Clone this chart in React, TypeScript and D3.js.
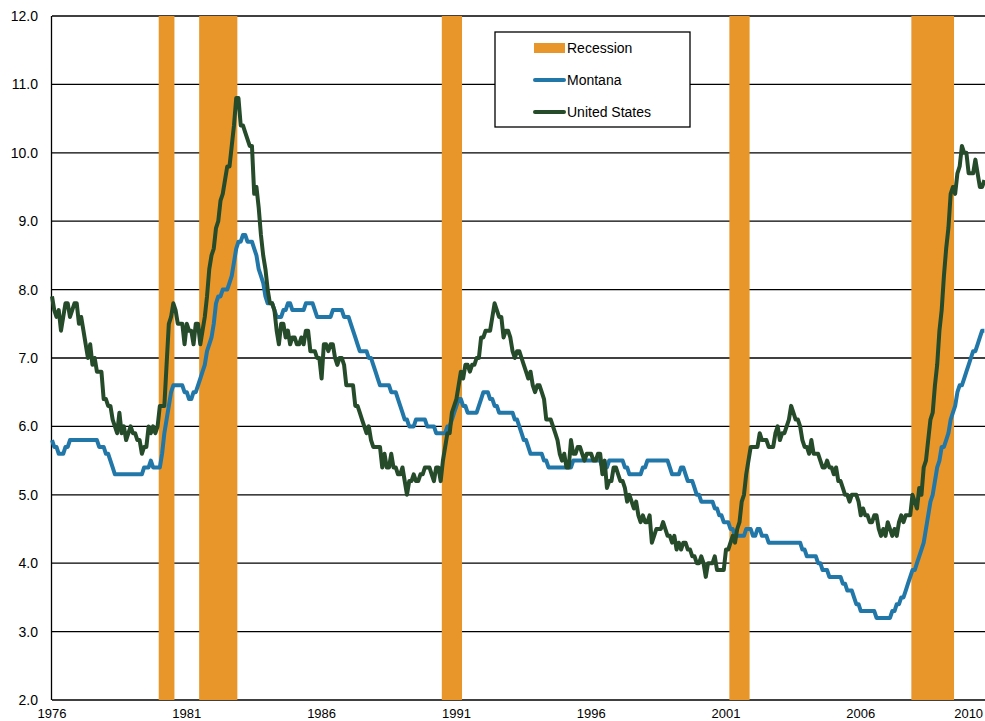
import React, { useEffect, useRef } from 'react';
import * as d3 from 'd3';

// monthly unemployment rate (%), Jan 1976 - Aug 2010
const START_YEAR = 1976;

const montana = [
  5.8, 5.7, 5.7, 5.6, 5.6, 5.6, 5.7, 5.7, 5.8, 5.8, 5.8, 5.8, // 1976
  5.8, 5.8, 5.8, 5.8, 5.8, 5.8, 5.8, 5.8, 5.8, 5.7, 5.7, 5.7, // 1977
  5.6, 5.6, 5.5, 5.4, 5.3, 5.3, 5.3, 5.3, 5.3, 5.3, 5.3, 5.3, // 1978
  5.3, 5.3, 5.3, 5.3, 5.3, 5.4, 5.4, 5.4, 5.5, 5.4, 5.4, 5.4, // 1979
  5.4, 5.6, 5.9, 6.1, 6.3, 6.5, 6.6, 6.6, 6.6, 6.6, 6.6, 6.5, // 1980
  6.5, 6.4, 6.4, 6.5, 6.5, 6.6, 6.7, 6.8, 6.9, 7.1, 7.2, 7.3, // 1981
  7.5, 7.8, 7.9, 7.9, 8.0, 8.0, 8.0, 8.1, 8.2, 8.4, 8.6, 8.7, // 1982
  8.7, 8.8, 8.8, 8.7, 8.7, 8.7, 8.6, 8.5, 8.3, 8.2, 8.1, 7.9, // 1983
  7.8, 7.8, 7.8, 7.7, 7.6, 7.6, 7.6, 7.7, 7.7, 7.8, 7.8, 7.7, // 1984
  7.7, 7.7, 7.7, 7.7, 7.7, 7.8, 7.8, 7.8, 7.8, 7.7, 7.6, 7.6, // 1985
  7.6, 7.6, 7.6, 7.6, 7.6, 7.7, 7.7, 7.7, 7.7, 7.7, 7.6, 7.6, // 1986
  7.6, 7.5, 7.4, 7.3, 7.2, 7.1, 7.1, 7.1, 7.1, 7.0, 7.0, 6.9, // 1987
  6.8, 6.7, 6.6, 6.6, 6.6, 6.6, 6.6, 6.5, 6.5, 6.5, 6.4, 6.3, // 1988
  6.2, 6.1, 6.1, 6.0, 6.0, 6.0, 6.1, 6.1, 6.1, 6.1, 6.1, 6.0, // 1989
  6.0, 6.0, 6.0, 5.9, 5.9, 5.9, 5.9, 5.9, 6.0, 6.0, 6.1, 6.2, // 1990
  6.3, 6.4, 6.4, 6.3, 6.3, 6.2, 6.2, 6.2, 6.2, 6.2, 6.3, 6.4, // 1991
  6.5, 6.5, 6.5, 6.4, 6.4, 6.3, 6.3, 6.2, 6.2, 6.2, 6.2, 6.2, // 1992
  6.2, 6.2, 6.1, 6.1, 6.0, 5.9, 5.8, 5.8, 5.7, 5.6, 5.6, 5.6, // 1993
  5.6, 5.6, 5.6, 5.5, 5.5, 5.4, 5.4, 5.4, 5.4, 5.4, 5.4, 5.4, // 1994
  5.4, 5.4, 5.4, 5.4, 5.5, 5.5, 5.5, 5.5, 5.5, 5.5, 5.5, 5.5, // 1995
  5.5, 5.5, 5.5, 5.5, 5.5, 5.4, 5.4, 5.4, 5.5, 5.5, 5.5, 5.5, // 1996
  5.5, 5.5, 5.5, 5.4, 5.4, 5.3, 5.3, 5.3, 5.3, 5.3, 5.3, 5.4, // 1997
  5.4, 5.5, 5.5, 5.5, 5.5, 5.5, 5.5, 5.5, 5.5, 5.5, 5.5, 5.4, // 1998
  5.3, 5.3, 5.3, 5.3, 5.4, 5.4, 5.3, 5.2, 5.2, 5.2, 5.1, 5.0, // 1999
  5.0, 4.9, 4.9, 4.9, 4.9, 4.9, 4.9, 4.8, 4.8, 4.7, 4.7, 4.6, // 2000
  4.6, 4.6, 4.5, 4.5, 4.4, 4.4, 4.4, 4.4, 4.4, 4.5, 4.5, 4.5, // 2001
  4.4, 4.4, 4.5, 4.5, 4.4, 4.4, 4.4, 4.3, 4.3, 4.3, 4.3, 4.3, // 2002
  4.3, 4.3, 4.3, 4.3, 4.3, 4.3, 4.3, 4.3, 4.3, 4.3, 4.2, 4.2, // 2003
  4.1, 4.1, 4.1, 4.1, 4.1, 4.0, 4.0, 3.9, 3.9, 3.9, 3.8, 3.8, // 2004
  3.8, 3.8, 3.8, 3.8, 3.7, 3.7, 3.6, 3.6, 3.6, 3.5, 3.4, 3.4, // 2005
  3.3, 3.3, 3.3, 3.3, 3.3, 3.3, 3.3, 3.2, 3.2, 3.2, 3.2, 3.2, // 2006
  3.2, 3.2, 3.3, 3.3, 3.4, 3.4, 3.5, 3.5, 3.6, 3.7, 3.8, 3.9, // 2007
  3.9, 4.0, 4.1, 4.2, 4.3, 4.5, 4.7, 4.9, 5.0, 5.2, 5.4, 5.5, // 2008
  5.7, 5.7, 5.8, 5.9, 6.1, 6.2, 6.3, 6.5, 6.6, 6.6, 6.7, 6.8, // 2009
  6.9, 7.0, 7.1, 7.1, 7.2, 7.3, 7.4, 7.4 // 2010
];

const unitedStates = [
  7.9, 7.7, 7.6, 7.7, 7.4, 7.6, 7.8, 7.8, 7.6, 7.7, 7.8, 7.8, // 1976
  7.5, 7.6, 7.4, 7.2, 7.0, 7.2, 6.9, 7.0, 6.8, 6.8, 6.8, 6.4, // 1977
  6.4, 6.3, 6.3, 6.1, 6.0, 5.9, 6.2, 5.9, 6.0, 5.8, 5.9, 6.0, // 1978
  5.9, 5.9, 5.8, 5.8, 5.6, 5.7, 5.7, 6.0, 5.9, 6.0, 5.9, 6.0, // 1979
  6.3, 6.3, 6.3, 6.9, 7.5, 7.6, 7.8, 7.7, 7.5, 7.5, 7.5, 7.2, // 1980
  7.5, 7.4, 7.4, 7.2, 7.5, 7.5, 7.2, 7.4, 7.6, 7.9, 8.3, 8.5, // 1981
  8.6, 8.9, 9.0, 9.3, 9.4, 9.6, 9.8, 9.8, 10.1, 10.4, 10.8, 10.8, // 1982
  10.4, 10.4, 10.3, 10.2, 10.1, 10.1, 9.4, 9.5, 9.2, 8.8, 8.5, 8.3, // 1983
  8.0, 7.8, 7.8, 7.7, 7.4, 7.2, 7.5, 7.5, 7.3, 7.4, 7.2, 7.3, // 1984
  7.3, 7.2, 7.2, 7.3, 7.2, 7.4, 7.4, 7.1, 7.1, 7.1, 7.0, 7.0, // 1985
  6.7, 7.2, 7.2, 7.1, 7.2, 7.2, 7.0, 6.9, 7.0, 7.0, 6.9, 6.6, // 1986
  6.6, 6.6, 6.6, 6.3, 6.3, 6.2, 6.1, 6.0, 5.9, 6.0, 5.8, 5.7, // 1987
  5.7, 5.7, 5.7, 5.4, 5.6, 5.4, 5.4, 5.6, 5.4, 5.4, 5.3, 5.3, // 1988
  5.4, 5.2, 5.0, 5.2, 5.2, 5.3, 5.2, 5.2, 5.3, 5.3, 5.4, 5.4, // 1989
  5.4, 5.3, 5.2, 5.4, 5.4, 5.2, 5.5, 5.7, 5.9, 5.9, 6.2, 6.3, // 1990
  6.4, 6.6, 6.8, 6.7, 6.9, 6.9, 6.8, 6.9, 6.9, 7.0, 7.0, 7.3, // 1991
  7.3, 7.4, 7.4, 7.4, 7.6, 7.8, 7.7, 7.6, 7.6, 7.3, 7.4, 7.4, // 1992
  7.3, 7.1, 7.0, 7.1, 7.1, 7.0, 6.9, 6.8, 6.7, 6.8, 6.6, 6.5, // 1993
  6.6, 6.6, 6.5, 6.4, 6.1, 6.1, 6.1, 6.0, 5.9, 5.8, 5.6, 5.5, // 1994
  5.6, 5.4, 5.4, 5.8, 5.6, 5.6, 5.7, 5.7, 5.6, 5.5, 5.6, 5.6, // 1995
  5.6, 5.5, 5.5, 5.6, 5.6, 5.3, 5.5, 5.1, 5.2, 5.2, 5.4, 5.4, // 1996
  5.3, 5.2, 5.2, 5.1, 4.9, 5.0, 4.9, 4.8, 4.9, 4.7, 4.6, 4.7, // 1997
  4.6, 4.6, 4.7, 4.3, 4.4, 4.5, 4.5, 4.5, 4.6, 4.5, 4.4, 4.4, // 1998
  4.3, 4.4, 4.2, 4.3, 4.2, 4.3, 4.3, 4.2, 4.2, 4.1, 4.1, 4.0, // 1999
  4.0, 4.1, 4.0, 3.8, 4.0, 4.0, 4.0, 4.1, 3.9, 3.9, 3.9, 3.9, // 2000
  4.2, 4.2, 4.3, 4.4, 4.3, 4.5, 4.6, 4.9, 5.0, 5.3, 5.5, 5.7, // 2001
  5.7, 5.7, 5.7, 5.9, 5.8, 5.8, 5.8, 5.7, 5.7, 5.7, 5.9, 6.0, // 2002
  5.8, 5.9, 5.9, 6.0, 6.1, 6.3, 6.2, 6.1, 6.1, 6.0, 5.8, 5.7, // 2003
  5.7, 5.6, 5.8, 5.6, 5.6, 5.6, 5.5, 5.4, 5.4, 5.5, 5.4, 5.4, // 2004
  5.3, 5.4, 5.2, 5.2, 5.1, 5.0, 5.0, 4.9, 5.0, 5.0, 5.0, 4.9, // 2005
  4.7, 4.8, 4.7, 4.7, 4.6, 4.6, 4.7, 4.7, 4.5, 4.4, 4.5, 4.4, // 2006
  4.6, 4.5, 4.4, 4.5, 4.4, 4.6, 4.7, 4.6, 4.7, 4.7, 4.7, 5.0, // 2007
  4.9, 4.8, 5.1, 5.0, 5.4, 5.5, 5.8, 6.1, 6.2, 6.6, 6.9, 7.4, // 2008
  7.7, 8.2, 8.6, 8.9, 9.4, 9.5, 9.4, 9.7, 9.8, 10.1, 10.0, 10.0, // 2009
  9.7, 9.7, 9.7, 9.9, 9.7, 9.5, 9.5, 9.6 // 2010
];

// recession periods [first month, last month]
const recessionStart = ['1980-01', '1981-07', '1990-07', '2001-03', '2007-12'];
const recessionEnd = ['1980-07', '1982-11', '1991-03', '2001-11', '2009-06'];

const yTicks = [2, 3, 4, 5, 6, 7, 8, 9, 10, 11, 12];
const xTickYears = [1976, 1981, 1986, 1991, 1996, 2001, 2006, 2010];

const legendItems = ['Recession', 'Montana', 'United States'];

const WIDTH = 985;
const HEIGHT = 721;
const MARGIN = { top: 16, right: 0, bottom: 21, left: 52 };
const FONT = '"Liberation Sans", Arial, sans-serif';

const ORANGE = '#E8962A';
const BLUE = '#2277A9';
const GREEN = '#254B2A';

const monthIndex = (s: string) => {
  const [y, m] = s.split('-').map(Number);
  return (y - START_YEAR) * 12 + (m - 1);
};

const App: React.FC = () => {
  const svgRef = useRef<SVGSVGElement>(null);

  useEffect(() => {
    const svg = d3.select(svgRef.current);
    svg.selectAll('*').remove();

    const chartBottom = HEIGHT - MARGIN.bottom;

    // 5 years span 134.8px
    const pxPerMonth = 134.8 / 60;
    const xScale = d3.scaleLinear()
      .domain([0, 415])
      .range([MARGIN.left, MARGIN.left + 415 * pxPerMonth]);

    const yScale = d3.scaleLinear()
      .domain([2, 12])
      .range([chartBottom, MARGIN.top]);

    svg.append('rect')
      .attr('width', WIDTH)
      .attr('height', HEIGHT)
      .attr('fill', '#fff');

    // Gridlines
    svg.append('g')
      .selectAll('line')
      .data(yTicks)
      .enter().append('line')
      .attr('x1', MARGIN.left)
      .attr('x2', WIDTH)
      .attr('y1', d => yScale(d))
      .attr('y2', d => yScale(d))
      .attr('stroke', '#000')
      .attr('stroke-width', 1.3);

    // Recession bars
    svg.append('g')
      .selectAll('rect')
      .data(recessionStart.map((s, i) => [monthIndex(s), monthIndex(recessionEnd[i])]))
      .enter().append('rect')
      .attr('x', d => xScale(d[0] - 0.5))
      .attr('width', d => xScale(d[1] + 0.5) - xScale(d[0] - 0.5))
      .attr('y', MARGIN.top)
      .attr('height', chartBottom - MARGIN.top)
      .attr('fill', ORANGE);

    // Left axis line
    svg.append('line')
      .attr('x1', MARGIN.left - 0.5)
      .attr('x2', MARGIN.left - 0.5)
      .attr('y1', MARGIN.top)
      .attr('y2', chartBottom)
      .attr('stroke', '#000')
      .attr('stroke-width', 1.3);

    // Lines
    const line = d3.line<number>()
      .x((_, i) => xScale(i))
      .y(d => yScale(d));

    svg.append('path')
      .datum(montana)
      .attr('fill', 'none')
      .attr('stroke', BLUE)
      .attr('stroke-width', 4)
      .attr('stroke-linejoin', 'round')
      .attr('d', line);

    svg.append('path')
      .datum(unitedStates)
      .attr('fill', 'none')
      .attr('stroke', GREEN)
      .attr('stroke-width', 4)
      .attr('stroke-linejoin', 'round')
      .attr('d', line);

    // Y labels
    svg.append('g')
      .selectAll('text')
      .data(yTicks)
      .enter().append('text')
      .attr('x', 38)
      .attr('y', d => yScale(d))
      .attr('dy', '0.35em')
      .attr('text-anchor', 'end')
      .style('font-family', FONT)
      .style('font-size', '14px')
      .style('fill', '#000')
      .text(d => d.toFixed(1));

    // X labels
    svg.append('g')
      .selectAll('text')
      .data(xTickYears)
      .enter().append('text')
      .attr('x', d => xScale((d - START_YEAR) * 12))
      .attr('y', 718)
      .attr('text-anchor', 'middle')
      .style('font-family', FONT)
      .style('font-size', '13px')
      .style('fill', '#000')
      .text(d => String(d));

    // Legend
    const legend = svg.append('g').attr('transform', 'translate(495,32)');
    legend.append('rect')
      .attr('width', 195)
      .attr('height', 95)
      .attr('fill', '#fff')
      .attr('stroke', '#000')
      .attr('stroke-width', 1.3);

    const items = legend.selectAll('.legend-item')
      .data(legendItems)
      .enter().append('g')
      .attr('class', 'legend-item')
      .attr('transform', (_, i) => `translate(0,${16 + i * 32})`);

    items.each(function (d, i) {
      const g = d3.select(this);
      if (i === 0) {
        g.append('rect')
          .attr('x', 39)
          .attr('y', -5)
          .attr('width', 31)
          .attr('height', 10)
          .attr('fill', ORANGE);
      } else {
        g.append('line')
          .attr('x1', 40)
          .attr('x2', 69)
          .attr('y1', 0)
          .attr('y2', 0)
          .attr('stroke', i === 1 ? BLUE : GREEN)
          .attr('stroke-width', 4)
          .attr('stroke-linecap', 'round');
      }
      g.append('text')
        .attr('x', 72)
        .attr('y', 0)
        .attr('dy', '0.35em')
        .style('font-family', FONT)
        .style('font-size', '14px')
        .style('fill', '#000')
        .text(d);
    });
  }, []);

  return (
    <svg
      ref={svgRef}
      width={WIDTH}
      height={HEIGHT}
      style={{ position: 'absolute', left: 0, top: 0 }}
    />
  );
};

export default App;
